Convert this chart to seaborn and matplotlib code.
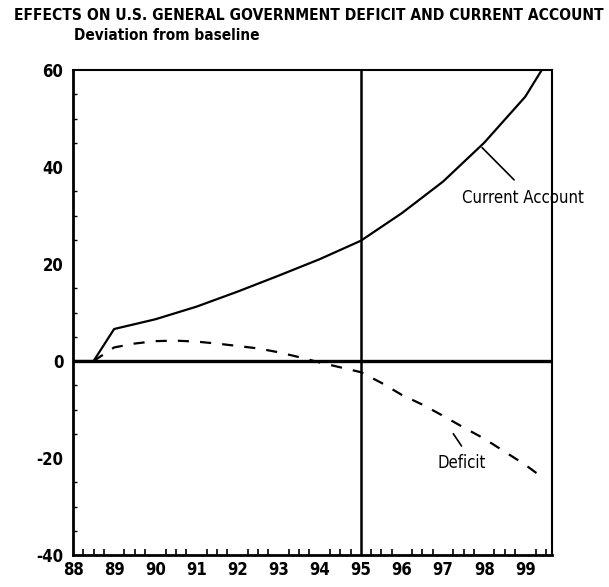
import matplotlib
matplotlib.use("Agg")
import matplotlib.pyplot as plt
from matplotlib.ticker import MultipleLocator
import pandas as pd
import seaborn as sns

# Current account, deviation from baseline (years 1988-1999, partial quarters)
ca_year = [88.0, 88.5, 89.0, 90.0, 91.0, 92.0, 93.0, 94.0, 95.0, 96.0, 97.0, 98.0, 99.0, 99.4]
ca_value = [0.0, 0.0, 6.6, 8.6, 11.2, 14.3, 17.6, 21.0, 24.8, 30.5, 37.0, 45.0, 54.5, 60.0]

# General government deficit, deviation from baseline
def_year = [88.5, 89.0, 89.5, 90.0, 90.5, 91.0, 91.5, 92.0, 92.5, 93.0, 93.5, 94.0,
            94.5, 95.0, 95.5, 96.0, 96.5, 97.0, 97.5, 98.0, 98.5, 99.0, 99.4]
def_value = [0.0, 2.8, 3.6, 4.1, 4.2, 4.0, 3.6, 3.1, 2.6, 1.8, 0.8, -0.3,
             -1.3, -2.3, -4.5, -7.0, -9.0, -11.3, -13.7, -16.0, -18.7, -21.4, -23.9]

year_ticks = list(range(88, 100))
year_labels = [str(y) for y in year_ticks]
y_ticks = [-40, -20, 0, 20, 40, 60]

ca = pd.DataFrame({"year": ca_year, "value": ca_value})
deficit = pd.DataFrame({"year": def_year, "value": def_value})

sns.set_style("white")
plt.rcParams["font.family"] = ["DejaVu Sans"]
plt.rcParams["axes.unicode_minus"] = False
plt.rcParams["text.color"] = "black"
plt.rcParams["xtick.color"] = "black"
plt.rcParams["ytick.color"] = "black"

fig = plt.figure(figsize=(6.09, 5.87), dpi=100)
ax = fig.add_axes([0.1199, 0.0545, 0.9064 - 0.1199, 0.8807 - 0.0545])

sns.lineplot(data=ca, x="year", y="value", ax=ax, color="black", linewidth=1.6)
sns.lineplot(data=deficit, x="year", y="value", ax=ax, color="black", linewidth=1.6,
             linestyle=(0, (5, 5)))

ax.axhline(0, color="black", linewidth=2.4, zorder=1)
ax.axvline(95, color="black", linewidth=1.8, zorder=1)

ax.set_xlim(88, 99.65)
ax.set_ylim(-40, 60)
ax.set_xticks(year_ticks)
ax.set_xticklabels(year_labels)
ax.set_yticks(y_ticks)
ax.xaxis.set_minor_locator(MultipleLocator(0.25))
ax.yaxis.set_minor_locator(MultipleLocator(5))
ax.tick_params(axis="x", which="major", direction="in", length=10, width=1.3,
               labelsize=12, pad=4, colors="black")
ax.tick_params(axis="x", which="minor", direction="in", length=4, width=1.2, bottom=True)
ax.tick_params(axis="y", which="major", direction="out", length=6, width=1.3,
               labelsize=12, pad=1, colors="black")
ax.tick_params(axis="y", which="minor", direction="in", length=3, width=1.0, left=True)
for lab in ax.get_xticklabels() + ax.get_yticklabels():
    lab.set_fontweight("bold")
    lab.set_fontstretch("condensed")

for side, sp in ax.spines.items():
    sp.set_visible(True)
    sp.set_color("black")
    sp.set_linewidth(2.0 if side in ("left", "bottom") else 1.5)

ax.set_xlabel("")
ax.set_ylabel("")

# labels with leader lines
ax.annotate("Current Account", xy=(97.95, 44.0), xytext=(98.95, 33.6),
            fontsize=12, ha="center", va="center", fontstretch="condensed",
            arrowprops=dict(arrowstyle="-", color="black", linewidth=1.2,
                            relpos=(0.5, 1.0), shrinkA=6, shrinkB=0))
ax.annotate("Deficit", xy=(97.25, -15.0), xytext=(97.46, -21.0),
            fontsize=12, ha="center", va="center", fontstretch="condensed",
            arrowprops=dict(arrowstyle="-", color="black", linewidth=1.2,
                            relpos=(0.6, 1.0), shrinkA=4, shrinkB=0))

fig.text(0.507, 0.974, "EFFECTS ON U.S. GENERAL GOVERNMENT DEFICIT AND CURRENT ACCOUNT",
         ha="center", va="center", fontsize=11.2, fontweight="bold",
         fontstretch="condensed")
fig.text(0.122, 0.94, "Deviation from baseline", ha="left", va="center",
         fontsize=11, fontweight="bold", fontstretch="condensed")

fig.savefig("out.png", dpi=100)
